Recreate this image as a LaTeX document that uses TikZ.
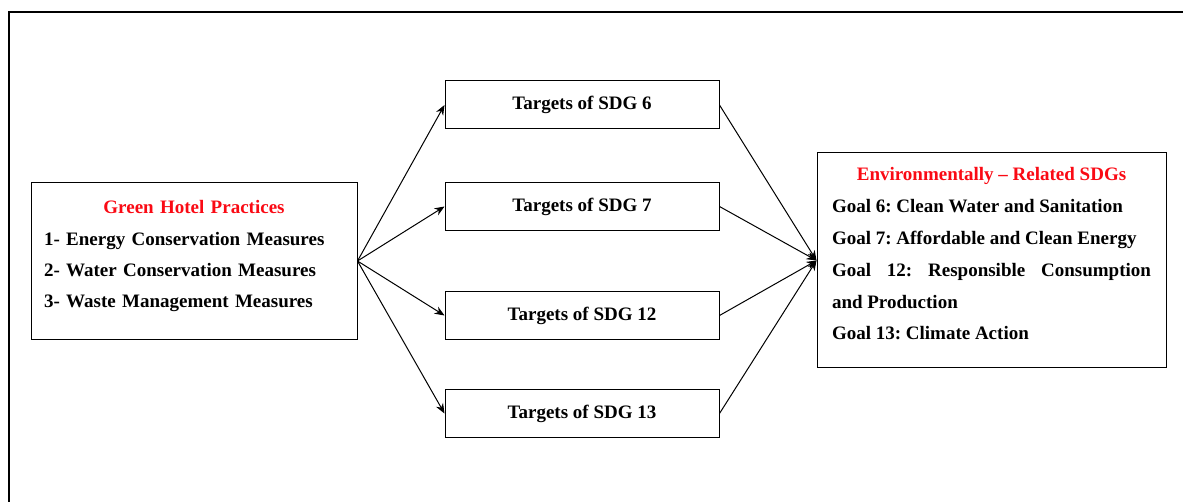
\documentclass[tikz,border=0pt]{standalone}
\usepackage{fontspec}
\setmainfont{Liberation Serif}
\usetikzlibrary{positioning}
\usetikzlibrary{arrows.meta}
\definecolor{titlered}{RGB}{250,10,20}

\begin{document}
\begin{tikzpicture}[x=1pt, y=-1pt,
		box/.style={draw, rectangle, line width=1pt, inner sep=0pt},
		boxtext/.style={inner sep=0pt, anchor=north, font=\fontsize{19}{31}\selectfont\bfseries\frenchspacing},
		target/.style={box, minimum width=274pt, minimum height=48pt, font=\fontsize{19}{20}\selectfont\bfseries},
		link/.style={line width=1pt, -{Stealth[length=10pt, width=8pt]}}]
	\useasboundingbox (0,0) rectangle (1183,502);
	% page frame
	\draw[line width=2pt] (9,520) -- (9,12) -- (1200,12);

	\node[box, minimum width=326pt, minimum height=157pt] (ghp) at (194,261) {};
	\node[boxtext, text width=300pt, align=left] (ghptext) at ([yshift=-18pt]ghp.north)
		{\makebox[300pt]{\color{titlered}Green Hotel Practices}\\[1pt]
		1- Energy Conservation Measures\\
		2- Water Conservation Measures\\
		3- Waste Management Measures};

	\node[target] (t6) at (582,105) {Targets of SDG 6};
	\node[target] (t7) at (582,206.5) {Targets of SDG 7};
	\node[target] (t12) at (582,315.5) {Targets of SDG 12};
	\node[target] (t13) at (582,413.5) {Targets of SDG 13};

	\node[box, minimum width=349pt, minimum height=215pt] (sdg) at (991.5,260.5) {};
	\node[boxtext, text width=319pt, align=justify, font=\fontsize{19}{31.8}\selectfont\bfseries\frenchspacing] (sdgtext) at ([yshift=-15pt]sdg.north)
		{\setlength{\parindent}{0pt}%
		\makebox[\linewidth]{\color{titlered}Environmentally -- Related SDGs}\par
		Goal 6: Clean Water and Sanitation\par
		Goal 7: Affordable and Clean Energy\par
		Goal 12: Responsible Consumption\linebreak and Production\par
		Goal 13: Climate Action};

	\draw[link] (ghp.east) -- (t6.west);
	\draw[link] (ghp.east) -- (t7.west);
	\draw[link] (ghp.east) -- (t12.west);
	\draw[link] (ghp.east) -- (t13.west);

	\draw[link] (t6.east) -- (sdg.west);
	\draw[link] (t7.east) -- (sdg.west);
	\draw[link] (t12.east) -- (sdg.west);
	\draw[link] (t13.east) -- (sdg.west);
\end{tikzpicture}
\end{document}
